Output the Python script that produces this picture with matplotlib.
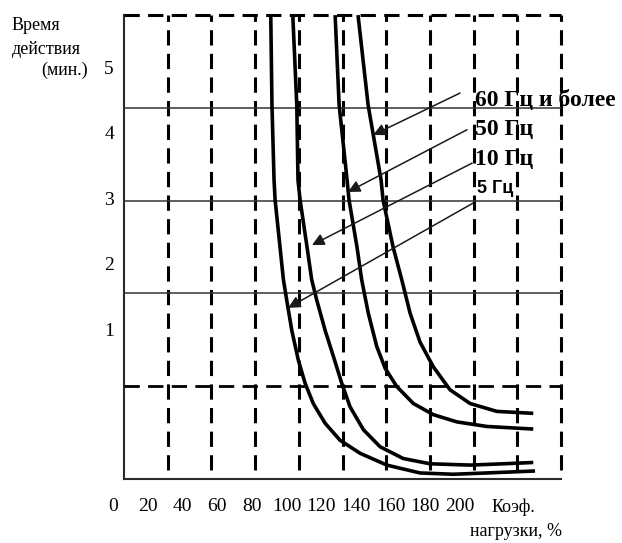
import matplotlib
matplotlib.use('Agg')
import matplotlib.pyplot as plt
import matplotlib.transforms as mtransforms

plt.rcParams['font.family'] = ['Liberation Serif', 'DejaVu Serif']
plt.rcParams['lines.scale_dashes'] = False

# curves: load coefficient (%) vs operating time (min)
load_5hz = [90.9, 91.6, 92.8, 93.4, 98.2, 100.1, 103.0, 106.8, 110.7, 115.4, 122.2, 130.8,
            142.4, 157.8, 176.9, 196.1, 215.4, 243.2]
time_5hz = [5.83, 4.46, 3.31, 3.01, 1.79, 1.48, 1.02, 0.56, 0.21, -0.10, -0.40, -0.66,
            -0.86, -1.04, -1.16, -1.18, -1.16, -1.13]

load_10hz = [103.6, 105.9, 106.6, 107.8, 111.8, 114.5, 117.4, 122.2, 127.0, 131.8, 136.6,
             144.3, 153.9, 167.3, 182.7, 205.8, 225.0, 242.2]
time_10hz = [5.83, 4.46, 3.31, 3.01, 2.29, 1.79, 1.48, 1.02, 0.62, 0.21, -0.15,
             -0.50, -0.76, -0.94, -1.02, -1.04, -1.02, -1.00]

load_50hz = [128.0, 130.3, 134.9, 136.0, 140.6, 143.3, 147.1, 152.0, 156.8, 163.5, 173.1,
             184.6, 198.1, 215.4, 242.2]
time_50hz = [5.83, 4.46, 3.31, 3.01, 2.29, 1.79, 1.28, 0.77, 0.44, 0.16, -0.10,
             -0.27, -0.38, -0.45, -0.49]

load_60hz = [141.2, 147.0, 154.5, 155.6, 161.4, 166.4, 171.2, 176.9, 184.6, 194.2, 205.8,
             221.2, 242.2]
time_60hz = [5.83, 4.46, 3.31, 3.01, 2.29, 1.79, 1.28, 0.84, 0.46, 0.11, -0.10,
             -0.22, -0.25]

x_ticks = [0, 20, 40, 60, 80, 100, 120, 140, 160, 180, 200]
y_ticks = [1, 2, 3, 4, 5]

# label text, text position, arrow head position
freq_labels = ['60 Гц и более', '50 Гц', '10 Гц', '5 Гц']
label_pos = [(208.6, 4.53), (208.6, 4.08), (208.6, 3.62), (209.8, 3.19)]
arrow_tail = [(200.0, 4.64), (204.0, 4.08), (206.9, 3.57), (207.5, 2.96)]
arrow_head = [(149.9, 4.00), (135.4, 3.13), (114.7, 2.32), (100.9, 1.36)]

fig = plt.figure(figsize=(6.22, 5.43), dpi=100)
ax = fig.add_axes([0.1994, 0.1179, 0.7026, 0.8545])
ax.set_xlim(6.34, 258.2)
ax.set_ylim(-1.252, 5.832)
ax.axis('off')

ta = ax.transAxes
dash = (0, (11, 6))

# frame
ax.plot([0, 0], [0, 1], transform=ta, color='#2a2a2a', lw=1.5, clip_on=False)
ax.plot([0, 1], [0, 0], transform=ta, color='#2a2a2a', lw=1.5, clip_on=False)
ax.plot([0, 1], [1, 1], transform=ta, color='black', lw=2.2, ls=dash, clip_on=False)

# grid
for i in range(1, 11):
    ax.plot([i / 10, i / 10], [0.02, 1], transform=ta, color='black', lw=2.2,
            ls=dash, clip_on=False)
ax.plot([0, 1], [0.2, 0.2], transform=ta, color='black', lw=2.0, ls=dash, clip_on=False)
for yy in [0.4, 0.6, 0.8]:
    ax.plot([0, 1], [yy, yy], transform=ta, color='#333333', lw=1.1, clip_on=False)

# curves
for xs, ys in [(load_5hz, time_5hz), (load_10hz, time_10hz),
               (load_50hz, time_50hz), (load_60hz, time_60hz)]:
    ax.plot(xs, ys, color='black', lw=2.6, solid_capstyle='butt',
            solid_joinstyle='round', clip_on=False)

# tick labels
bx = mtransforms.blended_transform_factory(ax.transData, ta)
for v in x_ticks:
    ax.text(v, -0.060, str(v), transform=bx, ha='center', va='center', fontsize=14)
by = mtransforms.blended_transform_factory(ta, ax.transData)
for v in y_ticks:
    ax.text(-0.023, v, str(v), transform=by, ha='right', va='center', fontsize=14)

fig.text(492 / 622, 1 - 507 / 543, 'Коэф.', ha='left', va='center', fontsize=13)
fig.text(562 / 622, 1 - 532 / 543, 'нагрузки, %', ha='right', va='center', fontsize=13)

fig.text(12 / 622, 1 - 30 / 543, 'Время', ha='left', va='baseline', fontsize=13)
fig.text(12 / 622, 1 - 54 / 543, 'действия', ha='left', va='baseline', fontsize=13)
fig.text(88 / 622, 1 - 75 / 543, '(мин.)', ha='right', va='baseline', fontsize=13)

# frequency labels with arrows
for i, lab in enumerate(freq_labels):
    if lab == '5 Гц':
        ax.text(*label_pos[i], lab, ha='left', va='center', fontsize=13,
                fontweight='bold', family=['Liberation Sans', 'DejaVu Sans'])
    else:
        ax.text(*label_pos[i], lab, ha='left', va='center', fontsize=17,
                fontweight='bold')
    ax.annotate('', xy=arrow_head[i], xytext=arrow_tail[i],
                arrowprops=dict(arrowstyle='-|>', lw=1.1, color='#1a1a1a',
                                mutation_scale=18, shrinkA=0, shrinkB=0),
                annotation_clip=False)

fig.savefig('out.png', dpi=100)
